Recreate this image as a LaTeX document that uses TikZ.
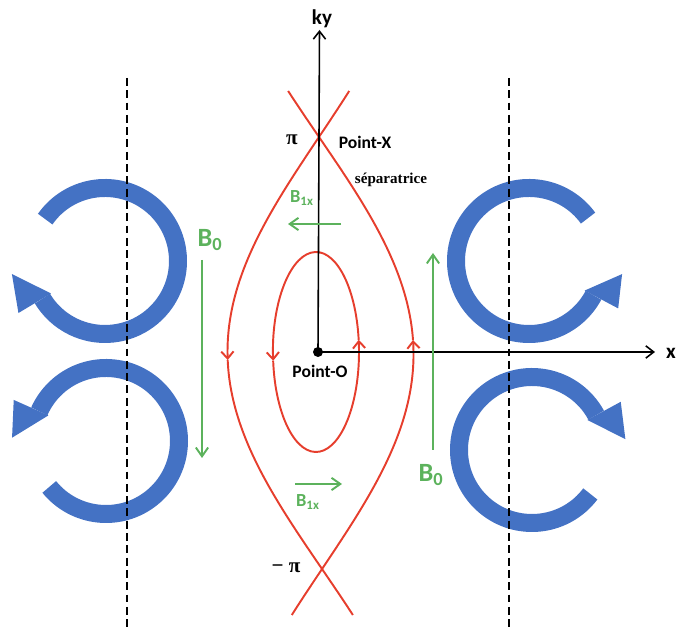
\documentclass[tikz,border=0pt]{standalone}
\usepackage{fontspec}
\setmainfont{Carlito}
\newfontfamily\timesfont{Liberation Serif}
\usetikzlibrary{arrows.meta}
\definecolor{fluxblue}{RGB}{68,114,196}
\definecolor{fieldgreen}{RGB}{92,178,92}
\definecolor{sepred}{RGB}{230,62,45}

\newcommand{\fluxloop}[5]{%
  \begin{scope}[shift={(#1,#2)}]
    \draw[fluxblue, line width=0.36cm] (#3:73) arc[start angle=#3, end angle=#4, radius=73];
    \fill[fluxblue] (#4:63) -- (#4:101) -- (#5:94) -- cycle;
  \end{scope}}

\begin{document}
\begin{tikzpicture}[x=0.02cm, y=0.02cm,
    sepline/.style={sepred, line width=1.1pt},
    flowtip/.style={sepline, -{Straight Barb[length=4pt,width=7pt]}},
    flowtipback/.style={sepline, {Straight Barb[length=4pt,width=7pt]}-},
    axisline/.style={black, line width=0.9pt, -{Straight Barb[length=4.5pt,width=7pt]}},
    fieldline/.style={fieldgreen, line width=1.1pt, -{Straight Barb[length=5pt,width=7pt]}},
    divider/.style={black, line width=1.1pt, dash pattern=on 4.5pt off 2.5pt},
    lbl/.style={inner sep=0pt, font=\fontsize{10}{12}\selectfont\bfseries},
    biglbl/.style={inner sep=0pt, font=\fontsize{12}{14}\selectfont\bfseries},
    blbl/.style={inner sep=0pt, text=fieldgreen, font=\fontsize{#1}{#1}\selectfont\bfseries}]
  \useasboundingbox (0,0) rectangle (677,628);

  \fluxloop{105}{367}{145}{-149}{-172}
  \fluxloop{106}{187}{-141}{156}{178}
  \fluxloop{529}{367}{36}{332}{352}
  \fluxloop{532}{178}{-37}{-331.5}{-353.4}

  \draw[divider] (127,550) -- (127,0);
  \draw[divider] (509,550) -- (509,0);

  % separatrice
  \draw[flowtip] plot[domain=-46:223, samples=60] ({319+0.007*\x-93*sin(0.416667*\x)}, {491-\x});
  \draw[sepline] plot[domain=223:478, samples=60] ({319+0.007*\x-93*sin(0.416667*\x)}, {491-\x});
  \draw[sepline] plot[domain=-46:203, samples=60] ({319+0.007*\x+93*sin(0.416667*\x)}, {491-\x});
  \draw[flowtipback] plot[domain=203:478, samples=60] ({319+0.007*\x+93*sin(0.416667*\x)}, {491-\x});

  % closed line round Point-O
  \coordinate (E) at (316,276);
  \draw[flowtip] (E) ++(0:43 and 100) arc[start angle=0, end angle=7, x radius=43, y radius=100];
  \draw[flowtip] (E) ++(7:43 and 100) arc[start angle=7, end angle=185, x radius=43, y radius=100];
  \draw[sepline] (E) ++(185:43 and 100) arc[start angle=185, end angle=360, x radius=43, y radius=100];

  \coordinate (O) at (318,276);
  \coordinate (kytop) at (319.5,598);
  \coordinate (xend) at (655,276);
  \draw[axisline] (O) -- (kytop);
  \draw[axisline] (O) -- (xend);
  \fill (O) circle (5);

  \draw[fieldline] (202,368) -- (202,170);
  \draw[fieldline] (433,178) -- (433,375);
  \draw[fieldline] (341,404) -- (288,404);
  \draw[fieldline] (295,144) -- (342,144);

  \node[biglbl] (ky) at (322,609) {ky};
  \node[biglbl] (xlbl) at (671,275) {x};
  \node[lbl] (ptX) at (365,486) {Point-X};
  \node[lbl] (ptO) at (320,257) {Point-O};
  \node[inner sep=0pt, font=\timesfont\fontsize{12}{14}\selectfont\bfseries] (pitop) at (292,488) {π};
  \node[inner sep=0pt, font=\timesfont\fontsize{12}{14}\selectfont\bfseries] (pibot) at (286,60) {− π};
  \node[inner sep=0pt, font=\timesfont\fontsize{8.6}{10}\selectfont\bfseries] (sepa) at (391,448) {séparatrice};
  \node[blbl=15] (b0l) at (210,388) {B\textsubscript{0}};
  \node[blbl=15] (b0r) at (431,153) {B\textsubscript{0}};
  \node[blbl=10.5] (b1top) at (302,430) {B\textsubscript{1x}};
  \node[blbl=10.5] (b1bot) at (308,126) {B\textsubscript{1x}};
\end{tikzpicture}
\end{document}
